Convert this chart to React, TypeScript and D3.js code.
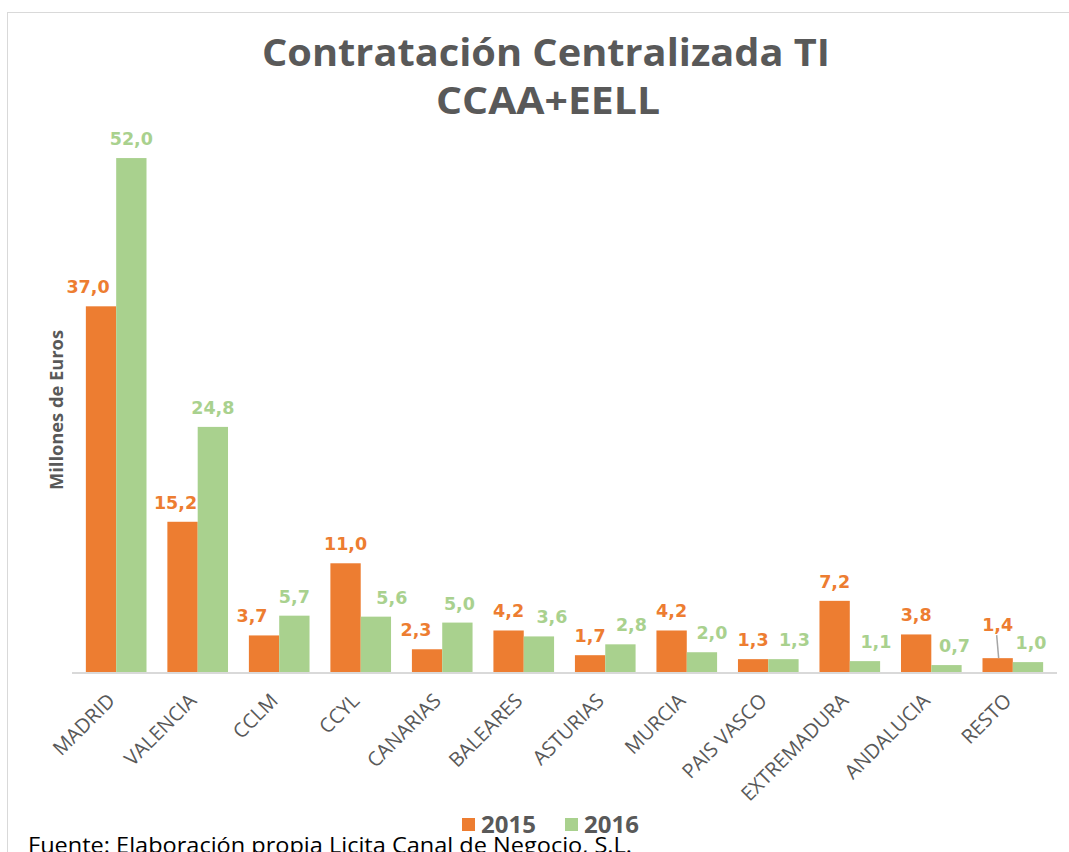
import React from "react";
import * as d3 from "d3";

const categories = [
  "MADRID",
  "VALENCIA",
  "CCLM",
  "CCYL",
  "CANARIAS",
  "BALEARES",
  "ASTURIAS",
  "MURCIA",
  "PAIS VASCO",
  "EXTREMADURA",
  "ANDALUCIA",
  "RESTO",
];
const values2015 = [37.0, 15.2, 3.7, 11.0, 2.3, 4.2, 1.7, 4.2, 1.3, 7.2, 3.8, 1.4];
const values2016 = [52.0, 24.8, 5.7, 5.6, 5.0, 3.6, 2.8, 2.0, 1.3, 1.1, 0.7, 1.0];
const seriesNames = ["2015", "2016"];

const colors = ["#ED7D31", "#A9D18E"];
const grey = "#595959";

// data labels that were dragged by hand in the original workbook
const labelNudgeX: Record<string, number>[] = [
  { MADRID: -13, VALENCIA: -7, CCLM: -12, CANARIAS: -11 },
  { CCYL: 16, CANARIAS: 2, BALEARES: 13, ASTURIAS: 11, MURCIA: 10, "PAIS VASCO": 11, EXTREMADURA: 11, ANDALUCIA: 8, RESTO: 3 },
];
const raisedLabels: Record<string, number> = { RESTO: 14 };

const W = 1069;
const H = 852;
const baseY = 672;

export default function App() {
  const x = d3
    .scaleBand<string>()
    .domain(categories)
    .range([72, 1057])
    .paddingInner(0.256)
    .paddingOuter(0.17);
  const inner = d3.scaleBand<string>().domain(seriesNames).range([0, x.bandwidth()]);
  const y = d3.scaleLinear().domain([0, 60]).range([baseY, 79]);

  const fmt = (v: number) => d3.format(".1f")(v).replace(".", ",");
  const series = [values2015, values2016];

  return (
    <svg
      width={W}
      height={H}
      style={{ position: "absolute", left: 0, top: 0, background: "#fff" }}
    >
      <rect x={7.5} y={12.5} width={W + 20} height={H + 20} fill="#fff" stroke="#D9D9D9" />

      <text
        x={546}
        y={66}
        textAnchor="middle"
        fontFamily="'Open Sans', sans-serif"
        fontWeight="bold"
        fontSize={38}
        fill={grey}
        textLength={568}
        lengthAdjust="spacingAndGlyphs"
      >
        Contratación Centralizada TI
      </text>
      <text
        x={548}
        y={114}
        textAnchor="middle"
        fontFamily="'Open Sans', sans-serif"
        fontWeight="bold"
        fontSize={38}
        fill={grey}
        textLength={224}
        lengthAdjust="spacingAndGlyphs"
      >
        CCAA+EELL
      </text>

      <text
        transform="translate(63,410) rotate(-90)"
        textAnchor="middle"
        fontFamily="'Open Sans', sans-serif"
        fontWeight="bold"
        fontSize={17}
        fill={grey}
        textLength={160}
        lengthAdjust="spacingAndGlyphs"
      >
        Millones de Euros
      </text>

      {series.map((vals, si) =>
        categories.map((c, i) => {
          const bx = (x(c) ?? 0) + (inner(seriesNames[si]) ?? 0);
          const bw = inner.bandwidth();
          const top = y(vals[i]);
          const raise = si === 0 ? raisedLabels[c] ?? 0 : 0;
          const nudge = labelNudgeX[si][c] ?? 0;
          const lx = bx + bw / 2 + nudge;
          const ly = top - 13 - raise;
          return (
            <g key={`${si}-${c}`}>
              <rect x={bx} y={top} width={bw} height={baseY - top} fill={colors[si]} />
              {raise > 0 && (
                <line x1={lx - 1} y1={ly + 4} x2={lx + 1} y2={top} stroke="#A6A6A6" strokeWidth={1.5} />
              )}
              <text
                x={lx}
                y={ly}
                textAnchor="middle"
                fontFamily="'DejaVu Sans', sans-serif"
                fontWeight="bold"
                fontSize={17.5}
                fill={colors[si]}
              >
                {fmt(vals[i])}
              </text>
            </g>
          );
        })
      )}

      <line x1={72} x2={1057} y1={baseY + 1} y2={baseY + 1} stroke="#D9D9D9" strokeWidth={2} />

      {categories.map((c) => {
        const cx = (x(c) ?? 0) + x.bandwidth() / 2;
        return (
          <text
            key={c}
            transform={`translate(${cx},${baseY + 30}) rotate(-45)`}
            textAnchor="end"
            fontFamily="'Open Sans', sans-serif"
            fontSize={20}
            fill={grey}
          >
            {c}
          </text>
        );
      })}

      {seriesNames.map((s, i) => (
        <g key={s} transform={`translate(${462 + i * 103},818)`}>
          <rect width={13} height={13} fill={colors[i]} />
          <text
            x={19}
            y={15}
            fontFamily="'Open Sans', sans-serif"
            fontWeight="bold"
            fontSize={24}
            fill={grey}
          >
            {s}
          </text>
        </g>
      ))}

      <text
        x={28}
        y={853}
        fontFamily="'Open Sans', sans-serif"
        fontSize={22}
        fill="#000"
        textLength={604}
        lengthAdjust="spacingAndGlyphs"
      >
        Fuente: Elaboración propia Licita Canal de Negocio, S.L.
      </text>
    </svg>
  );
}
